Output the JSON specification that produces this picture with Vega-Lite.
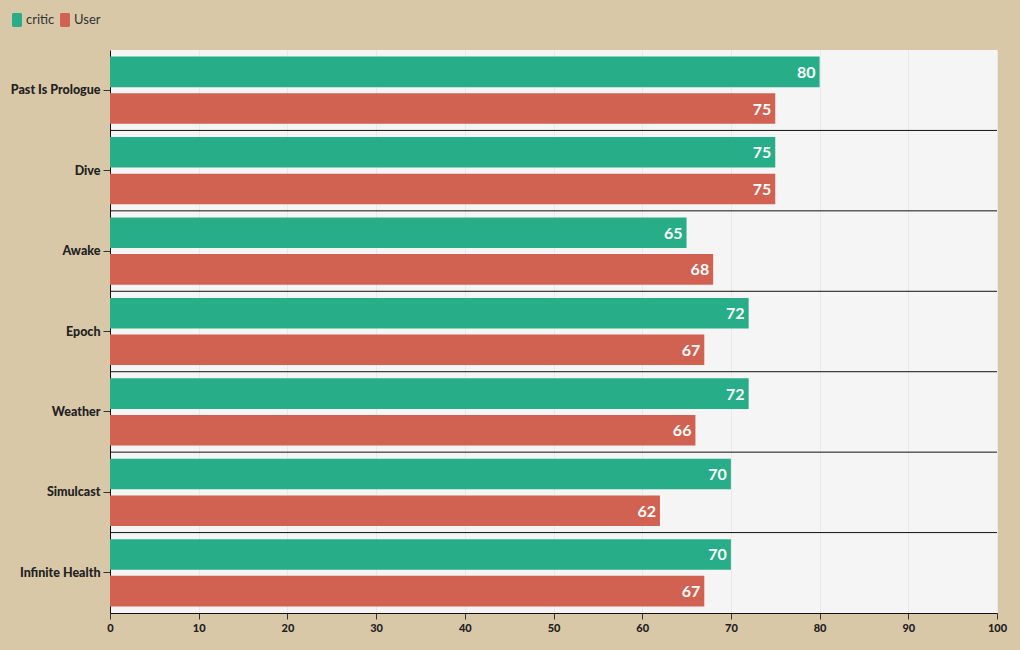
{
  "$schema": "https://vega.github.io/schema/vega-lite/v6.json",
  "width": 887,
  "height": 563,
  "autosize": {"type": "none"},
  "padding": {"left": 110, "top": 50, "right": 23, "bottom": 37},
  "background": "#d9c8a8",
  "config": {
    "font": "Lato",
    "view": {"fill": "#f5f5f5", "stroke": null}
  },
  "data": {
    "values": [
      {"album": "Past Is Prologue", "source": "critic", "score": 80},
      {"album": "Past Is Prologue", "source": "User", "score": 75},
      {"album": "Dive", "source": "critic", "score": 75},
      {"album": "Dive", "source": "User", "score": 75},
      {"album": "Awake", "source": "critic", "score": 65},
      {"album": "Awake", "source": "User", "score": 68},
      {"album": "Epoch", "source": "critic", "score": 72},
      {"album": "Epoch", "source": "User", "score": 67},
      {"album": "Weather", "source": "critic", "score": 72},
      {"album": "Weather", "source": "User", "score": 66},
      {"album": "Simulcast", "source": "critic", "score": 70},
      {"album": "Simulcast", "source": "User", "score": 62},
      {"album": "Infinite Health", "source": "critic", "score": 70},
      {"album": "Infinite Health", "source": "User", "score": 67}
    ]
  },
  "encoding": {
    "y": {
      "field": "album",
      "type": "nominal",
      "sort": null,
      "scale": {"paddingInner": 0, "paddingOuter": 0},
      "axis": {
        "title": null,
        "labelFont": "Lato",
        "labelFontWeight": 900,
        "labelFontSize": 12.5,
        "labelColor": "#222",
        "domainColor": "#111",
        "tickColor": "#333",
        "tickSize": 7,
        "labelPadding": 3
      }
    }
  },
  "layer": [
    {
      "mark": {"type": "bar"},
      "encoding": {
        "x": {
          "field": "score",
          "type": "quantitative",
          "scale": {"domain": [0, 100]},
          "axis": {
            "title": null,
            "values": [0, 10, 20, 30, 40, 50, 60, 70, 80, 90, 100],
            "labelOverlap": false,
            "labelFlush": false,
            "labelFontWeight": 900,
            "labelFontSize": 11,
            "labelColor": "#222",
            "domainColor": "#111",
            "tickColor": "#333",
            "tickSize": 6,
            "gridColor": "#e9e9e9",
            "labelPadding": 3
          }
        },
        "yOffset": {
          "field": "source",
          "type": "nominal",
          "sort": ["critic", "User"],
          "scale": {"paddingInner": 0.165, "paddingOuter": 0.18}
        },
        "color": {
          "field": "source",
          "type": "nominal",
          "sort": ["critic", "User"],
          "scale": {"domain": ["critic", "User"], "range": ["#27ad87", "#d16151"]},
          "legend": {
            "title": null,
            "orient": "none",
            "direction": "horizontal",
            "legendX": -100,
            "legendY": -37,
            "symbolType": "M -0.5 -1 L 0.5 -1 Q 0.71 -1 0.71 -0.79 L 0.71 0.79 Q 0.71 1 0.5 1 L -0.5 1 Q -0.71 1 -0.71 0.79 L -0.71 -0.79 Q -0.71 -1 -0.5 -1 Z",
            "symbolSize": 196,
            "symbolStrokeWidth": 0,
            "symbolOpacity": 1,
            "labelFontSize": 13,
            "labelColor": "#333",
            "labelOffset": 2,
            "columnPadding": 3,
            "symbolOffset": 0
          }
        }
      }
    },
    {
      "mark": {
        "type": "text",
        "align": "right",
        "baseline": "middle",
        "dx": -4,
        "dy": 1,
        "fontSize": 16,
        "fontWeight": "bold",
        "color": "white"
      },
      "encoding": {
        "x": {"field": "score", "type": "quantitative"},
        "yOffset": {"field": "source", "type": "nominal", "sort": ["critic", "User"]},
        "text": {"field": "score", "type": "quantitative"}
      }
    },
    {
      "transform": [
        {"filter": "datum.source == 'critic' && datum.album != 'Past Is Prologue'"}
      ],
      "mark": {"type": "rule", "color": "#111", "strokeWidth": 1},
      "encoding": {
        "y": {"field": "album", "type": "nominal", "sort": null, "bandPosition": 0}
      }
    }
  ]
}
